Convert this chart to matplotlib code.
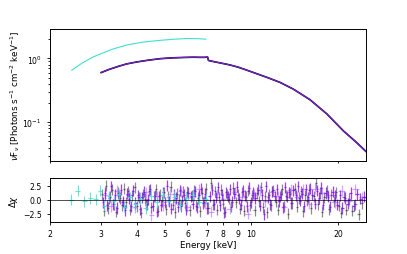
import matplotlib
matplotlib.use("Agg")
import matplotlib.pyplot as plt
from matplotlib.ticker import FuncFormatter, NullFormatter
import numpy as np

# model curves (keV, nuFnu)
mod_e = [3.01, 3.2, 3.45, 3.69, 4.0, 4.4, 4.82, 5.3, 5.8, 6.3, 6.6, 6.9, 7.05, 7.1,
         7.2, 7.6, 8.0, 8.43, 9.0, 9.6, 10.4, 11.4, 12.6, 14.0, 16.0, 18.3, 20.9,
         23.0, 25.0]
mod_f = [0.60, 0.67, 0.75, 0.82, 0.88, 0.94, 0.99, 1.02, 1.035, 1.045, 1.04, 1.04,
         1.05, 0.93, 0.915, 0.87, 0.83, 0.79, 0.73, 0.66, 0.58, 0.50, 0.42, 0.33,
         0.225, 0.135, 0.073, 0.05, 0.035]
cyan_e = [2.38, 2.6, 2.83, 3.0, 3.3, 3.69, 4.2, 4.82, 5.4, 6.0, 6.5, 6.95]
cyan_f = [0.655, 0.86, 1.06, 1.18, 1.4, 1.62, 1.8, 1.92, 2.0, 2.05, 2.04, 2.0]

# residuals
blk_e = [3.03, 3.08, 3.13, 3.18, 3.23, 3.28, 3.33, 3.38, 3.44, 3.50,
         3.56, 3.62, 3.68, 3.74, 3.80, 3.86, 3.93, 4.00, 4.07, 4.14,
         4.21, 4.28, 4.35, 4.42, 4.50, 4.58, 4.66, 4.74, 4.82, 4.90,
         4.98, 5.06, 5.15, 5.24, 5.33, 5.42, 5.51, 5.60, 5.70, 5.80,
         5.90, 6.00, 6.10, 6.20, 6.31, 6.42, 6.53, 6.64, 6.75, 6.86,
         6.98, 7.10, 7.22, 7.34, 7.46, 7.59, 7.72, 7.85, 7.98, 8.11,
         8.25, 8.39, 8.53, 8.67, 8.82, 8.97, 9.12, 9.27, 9.43, 9.59,
         9.75, 9.92, 10.09, 10.26, 10.43, 10.61, 10.79, 10.97, 11.16, 11.35,
         11.54, 11.74, 11.94, 12.14, 12.35, 12.56, 12.77, 12.99, 13.21, 13.43,
         13.66, 13.89, 14.13, 14.37, 14.61, 14.86, 15.11, 15.37, 15.63, 15.9,
         16.17, 16.45, 16.73, 17.02, 17.32, 17.63, 17.95, 18.28, 18.62, 18.97,
         19.33, 19.7, 20.1, 20.5, 20.95, 21.4, 21.9, 22.45, 23.0, 23.6,
         24.2]
blk_r = [1.0, -2.0, 2.5, -1.5, 0.5, 1.8, -0.8, -2.2, 1.2, 0.3,
         -1.0, 2.0, -0.5, 1.5, -1.8, 0.8, 2.2, -1.2, 0.4, -2.4,
         1.0, 0.2, -0.8, 1.6, -1.4, 0.6, 1.9, -2.0, 0.9, -0.3,
         1.3, -1.7, 0.5, 2.3, -0.9, -2.3, 1.1, 0.0, -1.2, 1.4,
         -0.6, 1.4, -1.9, 0.7, 1.7, -1.1, 0.3, -2.1, 1.2, -0.4,
         2.0, -1.5, 3.0, -0.9, 1.5, -1.8, 0.4, 1.8, -0.7, -2.2,
         1.0, 0.2, -1.3, 2.1, -0.5, 0.9, -1.6, 1.3, -2.0, 0.5,
         1.6, -1.0, 0.8, -1.9, 1.2, -0.3, 2.2, -1.4, 0.6, -2.3,
         0.9, -1.0, 1.7, -0.4, -1.8, 0.5, 1.9, -1.2, 0.7, -2.5,
         1.1, -0.6, 2.0, -1.3, 0.3, 1.5, -2.1, 0.8, -0.2, 1.8,
         -1.5, 0.6, 3.0, -0.8, 1.2, -2.2, 0.4, 1.6, -1.7, 0.9,
         -0.3, 1.3, -1.1, -2.4, 0.5, -1.8, 0.2, -2.0, -0.8, -2.6,
         -0.6]

pur_e = [3.05, 3.10, 3.15, 3.20, 3.25, 3.30, 3.35, 3.41, 3.47, 3.53,
         3.59, 3.65, 3.71, 3.77, 3.83, 3.89, 3.96, 4.03, 4.10, 4.17,
         4.24, 4.31, 4.38, 4.46, 4.54, 4.62, 4.70, 4.78, 4.86, 4.94,
         5.02, 5.10, 5.19, 5.28, 5.37, 5.46, 5.55, 5.65, 5.75, 5.85,
         5.95, 6.05, 6.15, 6.25, 6.36, 6.47, 6.58, 6.69, 6.80, 6.92,
         7.04, 7.16, 7.28, 7.40, 7.52, 7.65, 7.78, 7.91, 8.04, 8.18,
         8.32, 8.46, 8.60, 8.74, 8.89, 9.04, 9.19, 9.35, 9.51, 9.67,
         9.83, 10.0, 10.17, 10.34, 10.52, 10.7, 10.88, 11.06, 11.25, 11.44,
         11.64, 11.84, 12.04, 12.24, 12.45, 12.66, 12.88, 13.1, 13.32, 13.54,
         13.77, 14.01, 14.25, 14.49, 14.73, 14.98, 15.24, 15.5, 15.76, 16.03,
         16.31, 16.59, 16.87, 17.17, 17.47, 17.79, 18.11, 18.45, 18.8, 19.15,
         19.5, 19.9, 20.3, 20.72, 21.17, 21.65, 22.17, 22.72, 23.3, 23.9,
         24.6]
pur_r = [-0.5, 1.2, -1.0, 0.3, 2.4, -0.8, 0.9, -1.5, 0.6, 1.8,
         -0.4, -1.9, 1.1, 0.2, -1.2, 1.6, -0.6, 0.8, -1.7, 0.4,
         1.4, -0.9, 0.1, 1.9, -1.1, 0.7, -2.2, 0.6, -1.0, 1.3,
         -0.5, 2.5, -0.3, -1.6, 1.0, 0.3, -1.3, 1.7, -0.2, 0.9,
         -1.8, 1.2, 0.5, -0.7, 1.5, -1.4, 0.8, 2.0, -0.6, 1.1,
         -1.5, 0.6, 1.8, -0.8, 0.4, 2.2, -1.0, 0.9, -2.4, 1.3,
         0.5, 1.9, -0.4, 1.1, 2.3, 0.2, -0.9, 1.6, 0.7, -1.2,
         2.1, -0.5, 1.2, 0.3, 1.8, -1.1, 0.9, -2.6, 2.4, 0.4,
         -0.8, 1.5, 0.6, 1.9, -0.3, 1.0, -1.4, 2.2, 0.5, 1.3,
         -0.6, 1.7, 0.8, 2.4, -0.2, 1.1, -1.2, 1.9, 0.4, 2.0,
         0.9, -0.7, 1.6, 0.3, 2.1, -0.9, 1.2, 0.5, -1.3, 1.4,
         0.8, -0.9, 0.8, -1.5, 0.3, -0.7, 1.2, -1.1, 1.0, 0.2,
         0.5]

lpur_e = [3.1, 3.25, 3.42, 3.58, 3.75, 3.93, 4.1, 4.3, 4.5, 4.72, 4.95, 5.2, 5.45, 5.7,
          6.0, 6.3, 6.6, 6.9, 7.25, 7.6, 8.0, 8.4, 8.8, 9.25, 9.7, 10.2, 10.7, 11.2,
          11.8, 12.4, 13.0, 13.7, 14.4, 15.1, 15.9, 16.7, 17.6, 18.5, 19.5, 20.6, 21.8,
          23.0, 24.3]
lpur_r = [0.8, -1.2, 1.6, -0.5, 0.9, -1.4, 0.4, 1.3, -2.8, 0.6, -1.0, 1.1, -0.4, 1.5,
          -1.3, 0.7, 1.9, -0.6, -2.2, 1.0, 0.2, -1.6, 1.3, 0.5, -2.5, 0.9, 1.7, -0.3,
          1.4, 0.6, -1.3, 1.8, 0.4, 1.9, -0.7, 2.0, 1.2, 0.8, -0.5, 1.6, -0.2,
          1.9, 0.4]

cyn_e = [2.37, 2.5, 2.63, 2.76, 2.88, 2.98, 3.08, 3.2, 3.33, 3.47, 3.62, 3.78, 3.95,
         4.12, 4.3, 4.5, 4.7, 4.92, 5.15, 5.4, 5.65, 5.95, 6.25, 6.6, 6.95]
cyn_r = [0.0, 1.6, -0.3, 0.3, 0.1, 1.6, -1.1, 0.6, -0.3, 1.0, -1.3, 0.4, -0.8,
         0.2, -1.5, 0.7, -0.5, 0.9, -0.2, 0.5, -0.9, 0.3, 0.8, -0.4, 0.2]
cyn_xerr = [0.05, 0.05, 0.05, 0.05, 0.05, 0.05, 0.05, 0.05, 0.06, 0.06, 0.07, 0.07, 0.08,
            0.08, 0.08, 0.09, 0.09, 0.1, 0.1, 0.11, 0.11, 0.12, 0.13, 0.14, 0.15]
res_err = 1.0

fig = plt.figure(figsize=(4.07, 2.55), dpi=100)
ax = fig.add_axes([0.123, 0.365, 0.776, 0.517])
axr = fig.add_axes([0.123, 0.124, 0.776, 0.174])

ax.plot(cyan_e, cyan_f, color="#40e0d0", lw=0.8)
ax.plot(mod_e, mod_f, color="black", lw=1.2)
ax.plot(mod_e, mod_f, color="#7a1fe0", lw=0.8)
ax.set_xscale("log")
ax.set_yscale("log")
ax.set_xlim(2, 25)
ax.set_ylim(0.0248, 2.88)
ax.xaxis.set_major_formatter(NullFormatter())
ax.xaxis.set_minor_formatter(NullFormatter())
ax.yaxis.set_minor_formatter(NullFormatter())
ax.set_ylabel(r"$\nu$F$_\nu$ [Photons s$^{-1}$ cm$^{-2}$ keV$^{-1}$]", fontsize=6.3)
ax.yaxis.set_label_coords(-0.088, 0.5)


def xerr_of(e):
    e = np.array(e)
    return np.gradient(e) / 2


axr.errorbar(blk_e, blk_r, yerr=res_err, xerr=xerr_of(blk_e), fmt="none",
             ecolor="black", alpha=0.45, elinewidth=0.9)
axr.errorbar(lpur_e, lpur_r, yerr=res_err, xerr=xerr_of(lpur_e), fmt="none",
             ecolor="#a855ff", alpha=0.5, elinewidth=0.9)
axr.errorbar(pur_e, pur_r, yerr=res_err, xerr=xerr_of(pur_e), fmt="none",
             ecolor="#7f00ff", alpha=0.75, elinewidth=0.9)
axr.errorbar(cyn_e, cyn_r, yerr=res_err, xerr=cyn_xerr, fmt="none",
             ecolor="#40e0d0", alpha=0.8, elinewidth=0.8)
axr.axhline(0, color="black", lw=0.6, alpha=0.8)
axr.set_xscale("log")
axr.set_xlim(2, 25)
axr.set_ylim(-4.1, 3.9)
axr.set_yticks([-2.5, 0.0, 2.5])
fmt = FuncFormatter(lambda v, p: "%g" % v if v in (2, 3, 4, 5, 6, 7, 8, 9, 10, 20) else "")
axr.xaxis.set_major_formatter(fmt)
axr.xaxis.set_minor_formatter(fmt)
axr.set_xlabel("Energy [keV]", fontsize=6.3, labelpad=2)
axr.set_ylabel(r"$\Delta\chi$", fontsize=6.3)
axr.yaxis.set_label_coords(-0.095, 0.5)

for a in (ax, axr):
    a.tick_params(labelsize=5.6, which="both", length=2.5, width=0.6)
    a.tick_params(which="minor", length=1.5)
    for s in a.spines.values():
        s.set_linewidth(0.7)
axr.tick_params(axis="x", which="both", length=2.5, pad=2)

fig.savefig("out.png", dpi=100)
